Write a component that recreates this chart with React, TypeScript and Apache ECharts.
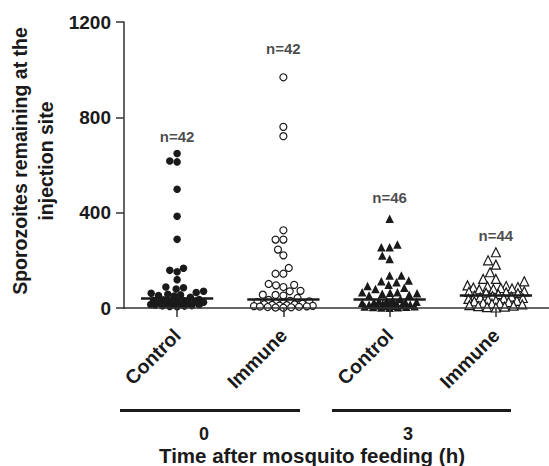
import React, { useEffect, useRef } from "react";
import * as echarts from "echarts";

const categories = ["Control", "Immune", "Control", "Immune"];
const timeGroups = ["0", "3"];
const yTicks = [0, 400, 800, 1200];

const control0h = [648, 617, 613, 498, 385, 288, 167, 158, 152, 119,
  88, 85, 80, 70, 65, 62, 58, 55, 52, 50, 45,
  36, 34, 32, 30, 28, 27, 25, 24, 22, 20, 19, 18, 16, 15, 14, 12, 10, 9, 8, 6, 5];
const immune0h = [968, 760, 721, 326, 287, 287, 245, 221, 168, 144, 144, 101, 97, 95, 88, 72, 70, 56, 55, 52, 42,
  34, 30, 28, 25, 22, 20, 18, 16, 15, 13, 12, 10, 9, 8, 7, 6, 5, 4, 3, 2, 1];
const control3h = [374, 266, 255, 255, 220, 206, 136, 136, 115, 112, 108, 98, 92, 85, 80,
  66, 66, 64, 62, 60, 56, 52, 38,
  32, 30, 28, 26, 25, 24, 22, 20, 18, 17, 15, 14, 12, 10, 9, 8, 7, 6, 5, 4, 3, 2, 1];
const immune3h = [234, 200, 182, 150, 122, 122, 112,
  95, 92, 90, 88, 86, 84, 82, 80, 78,
  70, 68, 66, 64, 62, 58, 52,
  50, 48, 45, 42, 40, 38, 35, 32, 30, 28, 25, 22, 20, 18, 15, 12, 10, 8, 6, 4, 2];

const groups = [control0h, immune0h, control3h, immune3h];
const nLabelValue = [720, 1090, 465, 305];

const FONT = "'Liberation Sans', Arial, sans-serif";
const INK = "#1a1a1a";

function median(a: number[]) {
  const s = [...a].sort((x, y) => x - y);
  const m = s.length / 2;
  return s.length % 2 ? s[Math.floor(m)] : (s[m - 1] + s[m]) / 2;
}

// beeswarm with a capped half-width; beyond it, points overlap (as in the original)
function swarm(values: number[], diam: number, halfW: number, pxY: number, pxX: number) {
  const idx = values.map((_, i) => i).sort((a, b) => values[a] - values[b]);
  const placed: { x: number; y: number }[] = [];
  const out: number[] = new Array(values.length).fill(0);
  const cands: number[] = [0];
  for (let s = 0.5; s <= halfW; s += 0.5) cands.push(-s, s);
  for (const i of idx) {
    const y = values[i] * pxY;
    let best = 0, bestD = -1;
    for (const dx of cands) {
      let md = Infinity;
      for (const p of placed) {
        const d = Math.hypot(p.x - dx, p.y - y);
        if (d < md) md = d;
      }
      if (md >= diam) { best = dx; bestD = md; break; }
      if (md > bestD + 0.3) { bestD = md; best = dx; }
    }
    placed.push({ x: best, y });
    out[i] = best / pxX;
  }
  return out;
}

export default function App() {
  const ref = useRef<HTMLDivElement>(null);
  useEffect(() => {
    const chart = echarts.init(ref.current!, undefined, { renderer: "svg" });
    const gridLeft = 124, gridTop = 22, gridBottom = 158, gridRight = -9;
    const plotH = 466 - gridTop - gridBottom;
    const plotW = 549 - gridLeft - gridRight;
    const pxY = plotH / 1200;
    const pxX = plotW / 4;

    const symbols = ["circle", "circle", "triangle", "triangle"];
    const sizes = [7.5, 7, 8.5, 9];
    const fills = [INK, "#fff", INK, "#fff"];
    const diams = [7.4, 7.6, 8.2, 8.8];
    const halfWs = [27, 30, 28, 29];

    const series: any[] = groups.map((vals, g) => {
      const offs = swarm(vals, diams[g], halfWs[g], pxY, pxX);
      const med = median(vals);
      return {
        type: "scatter",
        xAxisIndex: 1,
        symbol: symbols[g],
        symbolSize: sizes[g],
        itemStyle: { color: fills[g], borderColor: INK, borderWidth: fills[g] === "#fff" ? 1.2 : 0, opacity: 1 },
        data: vals.map((v, i) => [g + offs[i], v]),
        markLine: {
          silent: true,
          symbol: "none",
          label: { show: false },
          lineStyle: { color: INK, width: 2.5, type: "solid" },
          data: [[{ coord: [g - 0.34, med] }, { coord: [g + 0.34, med] }]],
        },
        z: 3,
      };
    });
    series.push({
      type: "scatter",
      xAxisIndex: 1,
      symbolSize: 0,
      data: groups.map((vals, g) => [g, nLabelValue[g], vals.length]),
      label: {
        show: true,
        position: "inside",
        formatter: (p: any) => "n=" + p.data[2],
        fontFamily: FONT,
        fontWeight: "bold",
        fontSize: 15,
        color: INK,
      },
    });

    chart.setOption({
      animation: false,
      grid: { left: gridLeft, right: gridRight, top: gridTop, bottom: gridBottom },
      xAxis: [
        {
          type: "category",
          data: categories,
          boundaryGap: true,
          axisLine: { onZero: false, lineStyle: { color: "#333", width: 1.5 } },
          axisTick: { show: true, interval: 0, alignWithLabel: true, length: 9, lineStyle: { color: "#333", width: 1.5 } },
          axisLabel: {
            interval: 0,
            rotate: 45,
            margin: 24,
            fontFamily: FONT,
            fontWeight: "bold",
            fontSize: 19.5,
            color: INK,
          },
          z: 5,
        },
        { type: "value", min: -0.5, max: 3.5, show: false },
      ],
      yAxis: {
        type: "value",
        min: 0,
        max: 1200,
        interval: 400,
        axisLine: { show: true, onZero: false, lineStyle: { color: "#333", width: 1.5 } },
        axisTick: { show: true, length: 8, lineStyle: { color: "#333", width: 1.5 } },
        splitLine: { show: false },
        axisLabel: {
          margin: 13,
          fontFamily: FONT,
          fontWeight: "bold",
          fontSize: 19,
          color: INK,
          formatter: (v: number) => (yTicks.includes(v) ? String(v) : ""),
        },
      },
      graphic: [
        {
          type: "text",
          x: 33,
          y: 161,
          rotation: Math.PI / 2,
          style: {
            text: "Sporozoites remaining at the\ninjection site",
            fontFamily: FONT,
            fontWeight: "bold",
            fontSize: 19.5,
            lineHeight: 26,
            fill: INK,
            align: "center",
            verticalAlign: "middle",
          },
        },
        { type: "line", shape: { x1: 120, y1: 410.5, x2: 300, y2: 410.5 }, style: { stroke: INK, lineWidth: 3 } },
        { type: "line", shape: { x1: 332, y1: 410.5, x2: 511, y2: 410.5 }, style: { stroke: INK, lineWidth: 3 } },
        {
          type: "text", x: 204, y: 434,
          style: { text: timeGroups[0], fontFamily: FONT, fontWeight: "bold", fontSize: 18, fill: INK, align: "center", verticalAlign: "middle" },
        },
        {
          type: "text", x: 408, y: 434,
          style: { text: timeGroups[1], fontFamily: FONT, fontWeight: "bold", fontSize: 18, fill: INK, align: "center", verticalAlign: "middle" },
        },
        {
          type: "text", x: 312, y: 455,
          style: { text: "Time after mosquito feeding (h)", fontFamily: FONT, fontWeight: "bold", fontSize: 20.5, fill: INK, align: "center", verticalAlign: "middle" },
        },
      ],
      series,
    });
    return () => chart.dispose();
  }, []);
  return <div ref={ref} style={{ width: 549, height: 466, position: "absolute", left: 0, top: 0 }} />;
}
